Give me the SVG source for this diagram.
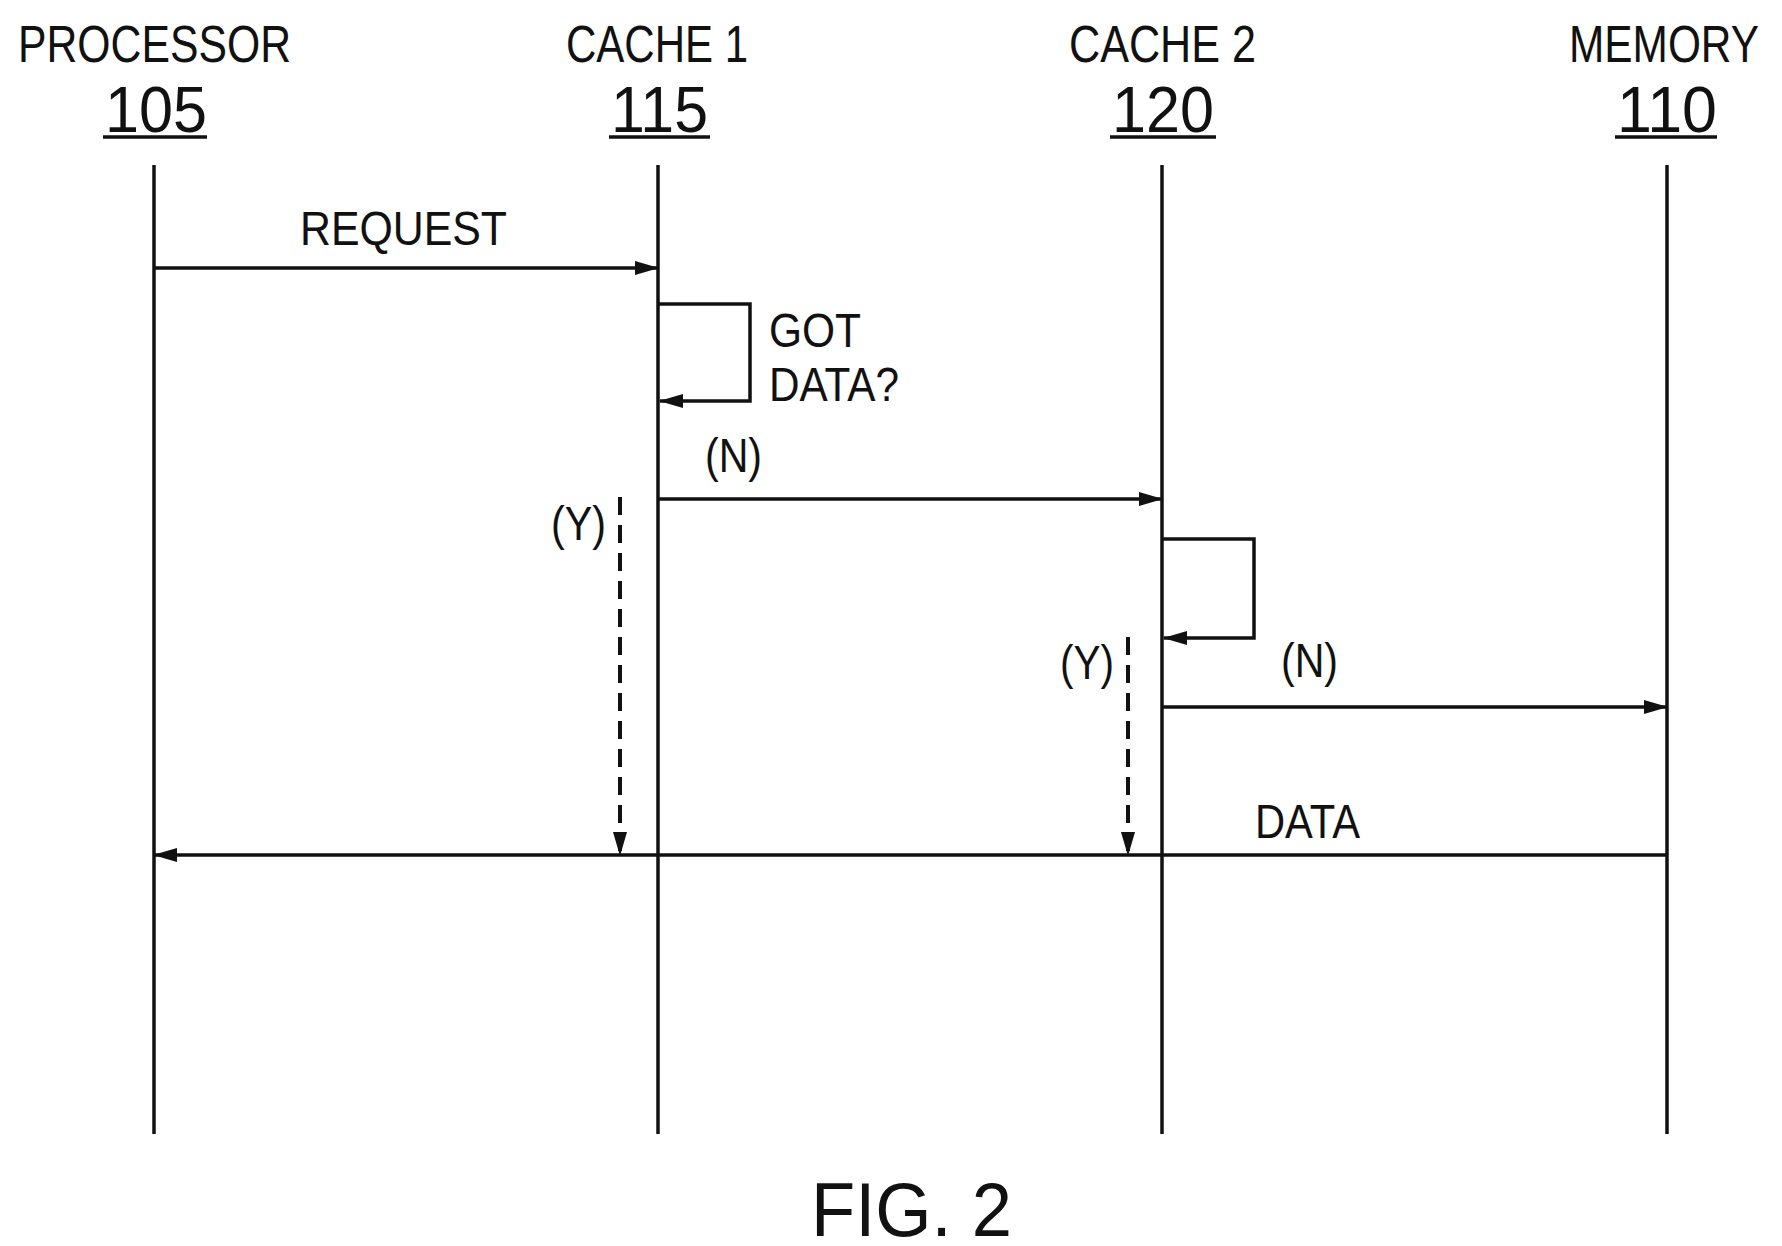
<svg xmlns="http://www.w3.org/2000/svg" width="1782" height="1246" viewBox="0 0 1782 1246">
<style>
text{font-family:"Liberation Sans",Arial,sans-serif;fill:#111}
.h{font-size:52px}
.n{font-size:64px}
.l{font-size:48px}
.ln{stroke:#111;stroke-width:3.5;fill:none}
.d{stroke:#111;stroke-width:4;fill:none;stroke-dasharray:18,10}
</style>
<defs><marker id="a" markerWidth="24" markerHeight="14" refX="23" refY="7" orient="auto" markerUnits="userSpaceOnUse"><path d="M0,0L24,7L0,14z" fill="#111"/></marker></defs>
<rect width="1782" height="1246" fill="#fff"/>
<g id="processor"><text class="h" x="18" y="62" textLength="273" lengthAdjust="spacingAndGlyphs">PROCESSOR</text><text class="n" x="105" y="132" textLength="102" lengthAdjust="spacingAndGlyphs">105</text><line class="ln" x1="103" y1="137" x2="207" y2="137"/><line class="ln" x1="154" y1="165" x2="154" y2="1134"/></g>
<g id="cache1"><text class="h" x="566" y="62" textLength="182" lengthAdjust="spacingAndGlyphs">CACHE 1</text><text class="n" x="611" y="132" textLength="97" lengthAdjust="spacingAndGlyphs">115</text><line class="ln" x1="609" y1="137" x2="710" y2="137"/><line class="ln" x1="658" y1="165" x2="658" y2="1134"/></g>
<g id="cache2"><text class="h" x="1069" y="62" textLength="187" lengthAdjust="spacingAndGlyphs">CACHE 2</text><text class="n" x="1112" y="132" textLength="102" lengthAdjust="spacingAndGlyphs">120</text><line class="ln" x1="1110" y1="137" x2="1216" y2="137"/><line class="ln" x1="1162" y1="165" x2="1162" y2="1134"/></g>
<g id="memory"><text class="h" x="1569" y="62" textLength="190" lengthAdjust="spacingAndGlyphs">MEMORY</text><text class="n" x="1617" y="132" textLength="100" lengthAdjust="spacingAndGlyphs">110</text><line class="ln" x1="1615" y1="137" x2="1717" y2="137"/><line class="ln" x1="1667" y1="165" x2="1667" y2="1134"/></g>
<g id="connectors">
<line class="ln" x1="154" y1="268" x2="658" y2="268" marker-end="url(#a)"/>
<path class="ln" d="M658,304H750V401H660" marker-end="url(#a)"/>
<line class="ln" x1="658" y1="499" x2="1162" y2="499" marker-end="url(#a)"/>
<line class="d" x1="620" y1="497" x2="620" y2="855" marker-end="url(#a)"/>
<path class="ln" d="M1162,539H1254V638H1164" marker-end="url(#a)"/>
<line class="d" x1="1128" y1="637" x2="1128" y2="855" marker-end="url(#a)"/>
<line class="ln" x1="1162" y1="707" x2="1667" y2="707" marker-end="url(#a)"/>
<line class="ln" x1="1667" y1="855" x2="154" y2="855" marker-end="url(#a)"/>
</g>
<g id="labels">
<text class="l" x="300" y="245" textLength="207" lengthAdjust="spacingAndGlyphs">REQUEST</text>
<text class="l" x="769" y="347" textLength="92" lengthAdjust="spacingAndGlyphs">GOT</text>
<text class="l" x="769" y="401" textLength="130" lengthAdjust="spacingAndGlyphs">DATA?</text>
<text class="l" x="705" y="472" textLength="57" lengthAdjust="spacingAndGlyphs">(N)</text>
<text class="l" x="551" y="540" textLength="55" lengthAdjust="spacingAndGlyphs">(Y)</text>
<text class="l" x="1060" y="679" textLength="54" lengthAdjust="spacingAndGlyphs">(Y)</text>
<text class="l" x="1281" y="677" textLength="57" lengthAdjust="spacingAndGlyphs">(N)</text>
<text class="l" x="1255" y="838" textLength="105" lengthAdjust="spacingAndGlyphs">DATA</text>
<text x="811" y="1236" style="font-size:76px" textLength="201" lengthAdjust="spacingAndGlyphs">FIG. 2</text>
</g>
</svg>
